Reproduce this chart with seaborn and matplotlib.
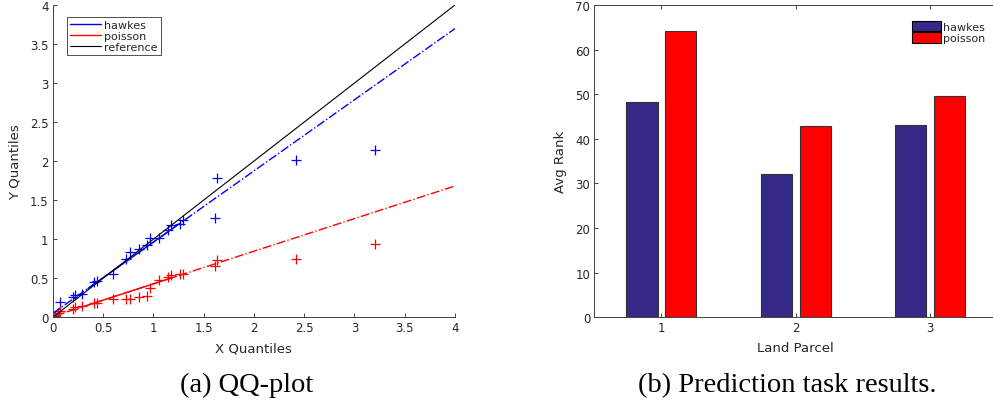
import numpy as np
import pandas as pd
import matplotlib
matplotlib.use("Agg")
import matplotlib.pyplot as plt
from matplotlib.lines import Line2D
from matplotlib.patches import Patch
import seaborn as sns

# QQ-plot data
x_quantiles = [0.02, 0.05, 0.07, 0.20, 0.22, 0.29, 0.41, 0.44, 0.60, 0.73, 0.77, 0.86,
               0.94, 0.97, 1.06, 1.15, 1.18, 1.27, 1.30, 1.61, 1.63, 2.42, 3.20]
hawkes_q = [0.02, 0.06, 0.19, 0.26, 0.29, 0.30, 0.45, 0.46, 0.55, 0.75, 0.84, 0.87,
            0.92, 1.02, 1.02, 1.12, 1.18, 1.20, 1.24, 1.27, 1.78, 2.02, 2.14]
poisson_q = [0.00, 0.05, 0.08, 0.10, 0.13, 0.14, 0.18, 0.18, 0.23, 0.23, 0.23, 0.26,
             0.27, 0.38, 0.48, 0.52, 0.54, 0.55, 0.56, 0.66, 0.73, 0.75, 0.94]
# fitted reference lines (intercept, slope)
hawkes_fit = (0.05, 0.912)
poisson_fit = (0.01, 0.418)
ref_x = [0, 4]

# prediction task data
parcels = ["1", "2", "3"]
hawkes_rank = [48.3, 32.2, 43.0]
poisson_rank = [64.2, 42.8, 49.5]

BLUE = "#0000FF"
RED = "#FF0000"
NAVY = "#352A87"
AXC = "#404040"

sns.set_style("ticks")
plt.rcParams["font.family"] = ["DejaVu Sans"]
plt.rcParams["xtick.direction"] = "in"
plt.rcParams["ytick.direction"] = "in"

fig = plt.figure(figsize=(9.93, 4.14), dpi=100)
ax1 = fig.add_axes([0.0531, 0.2312, 0.4051, 0.7543])
ax2 = fig.add_axes([0.5985, 0.2312, 0.4055, 0.7543])

# ---- left: QQ plot
qq = pd.DataFrame({"x": x_quantiles, "hawkes": hawkes_q, "poisson": poisson_q})
q1, q3 = np.percentile(x_quantiles, [25, 75])
xs = np.array(ref_x, dtype=float)
xm = np.array([q1, q3])
for (b, m), c in [(hawkes_fit, BLUE), (poisson_fit, RED)]:
    ax1.plot(xs, b + m * xs, color=c, lw=1.0, ls="-.")
    ax1.plot(xm, b + m * xm, color=c, lw=1.0, ls="-")
sns.lineplot(x=ref_x, y=ref_x, ax=ax1, color="black", lw=0.8)
sns.scatterplot(data=qq, x="x", y="hawkes", ax=ax1, marker="+", color=BLUE, s=55, linewidth=0.9)
sns.scatterplot(data=qq, x="x", y="poisson", ax=ax1, marker="+", color=RED, s=55, linewidth=0.9)

ax1.set_xlim(0, 4)
ax1.set_ylim(0, 4)
ax1.set_xticks(np.arange(0, 4.01, 0.5))
ax1.set_yticks(np.arange(0, 4.01, 0.5))
ax1.set_xticklabels(["0", "0.5", "1", "1.5", "2", "2.5", "3", "3.5", "4"])
ax1.set_yticklabels(["0", "0.5", "1", "1.5", "2", "2.5", "3", "3.5", "4"])
ax1.set_xlabel("X Quantiles", fontsize=9.5, color="#262626", labelpad=5)
ax1.set_ylabel("Y Quantiles", fontsize=9.5, color="#262626", labelpad=6)
sns.despine(ax=ax1)
handles = [Line2D([], [], color=BLUE, lw=1), Line2D([], [], color=RED, lw=1),
           Line2D([], [], color="black", lw=0.8)]
leg = ax1.legend(handles, ["hawkes", "poisson", "reference"], loc="upper left",
                 bbox_to_anchor=(0.022, 0.98), fontsize=8, handlelength=2.8,
                 handletextpad=0.3, borderpad=0.25, labelspacing=0.1,
                 frameon=True, fancybox=False, edgecolor="black")
leg.get_frame().set_linewidth(0.6)

# ---- right: bar plot
bars = pd.DataFrame({
    "parcel": parcels * 2,
    "rank": hawkes_rank + poisson_rank,
    "model": ["hawkes"] * 3 + ["poisson"] * 3,
})
sns.barplot(data=bars, x="parcel", y="rank", hue="model", order=parcels,
            palette={"hawkes": NAVY, "poisson": RED}, width=0.58, gap=0.2,
            edgecolor="#333333", linewidth=0.8, saturation=1, ax=ax2, legend=False)
ax2.set_xlim(-0.5, 2.5)
ax2.set_ylim(0, 70)
ax2.set_yticks(range(0, 71, 10))
ax2.set_xlabel("Land Parcel", fontsize=9.5, color="#262626", labelpad=5)
ax2.set_ylabel("Avg Rank", fontsize=9.5, color="#262626", labelpad=6)
ax2.tick_params(top=True, right=True)
ph = [Patch(facecolor=NAVY, edgecolor="black", lw=0.8),
      Patch(facecolor=RED, edgecolor="black", lw=0.8)]
ax2.legend(ph, ["hawkes", "poisson"], loc="upper left", bbox_to_anchor=(0.77, 0.975),
           fontsize=8, frameon=False, handlelength=2.6, handleheight=1.1,
           handletextpad=0.15, labelspacing=0.05, borderpad=0.2)

for ax in (ax1, ax2):
    ax.tick_params(labelsize=8.5, colors="#262626", length=3, width=0.6, pad=3)
    for sp in ax.spines.values():
        sp.set_color(AXC)
        sp.set_linewidth(0.7)

fig.text(0.248, 0.068, "(a) QQ-plot", fontsize=20.5, family="Liberation Serif",
         color="black", ha="center", va="center")
fig.text(0.793, 0.068, "(b) Prediction task results.", fontsize=20.5, family="Liberation Serif",
         color="black", ha="center", va="center")

fig.savefig("out.png", dpi=100)
